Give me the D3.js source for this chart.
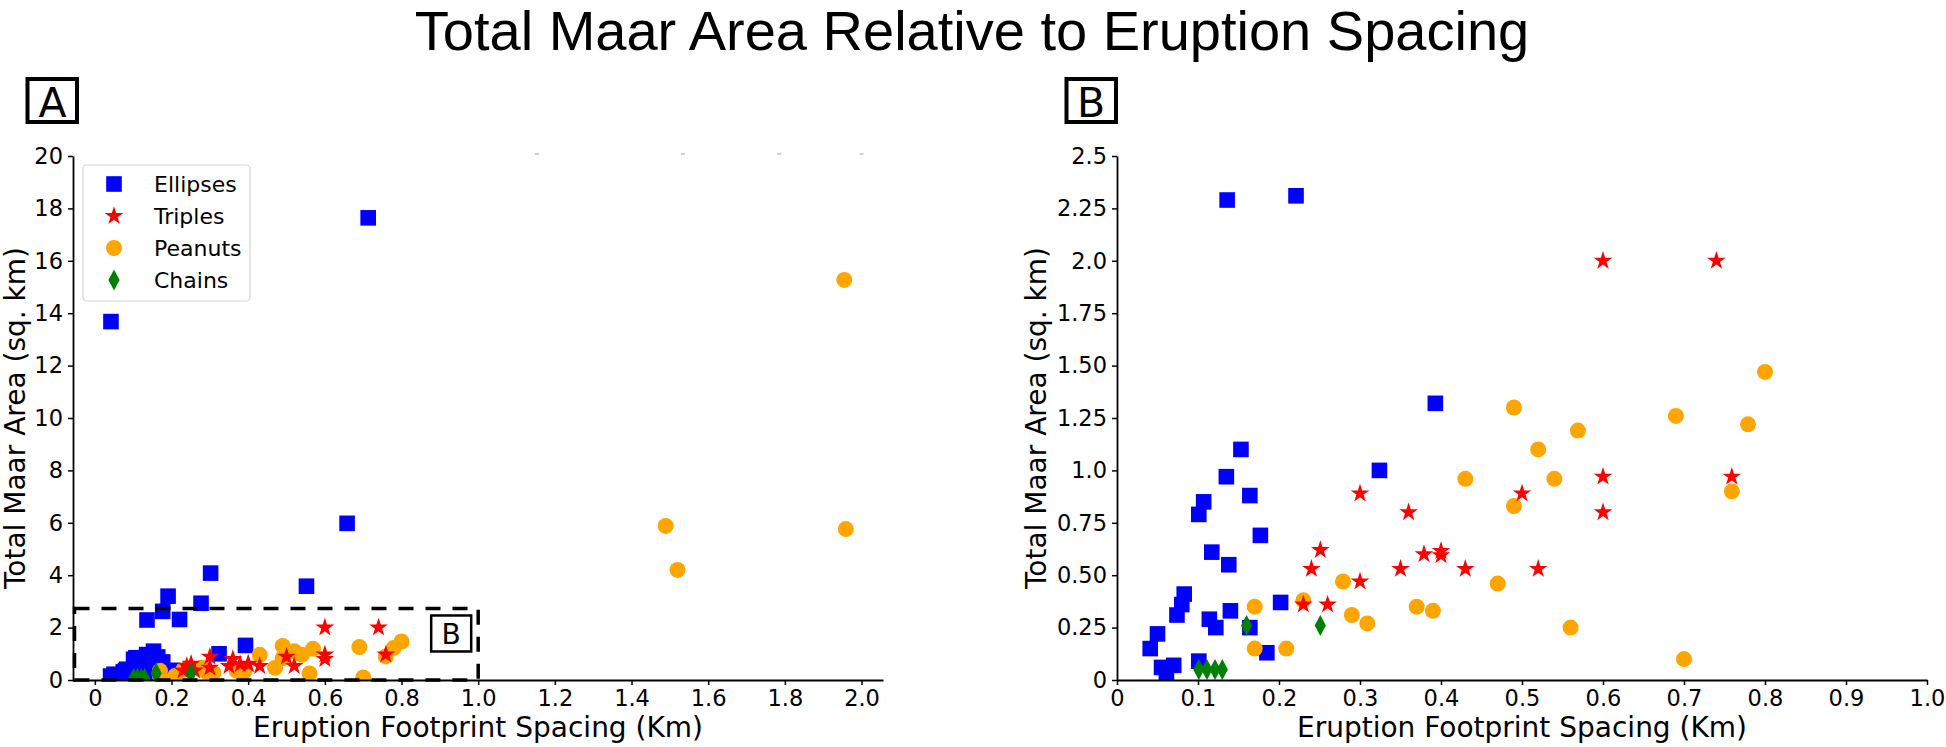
<!DOCTYPE html>
<html>
<head>
<meta charset="utf-8">
<script src="https://cdn.jsdelivr.net/npm/d3@7"></script>
<style>
  html, body { margin: 0; padding: 0; background: #fff; }
  svg { display: block; }
</style>
</head>
<body>
<svg id="chart" width="1946" height="747"></svg>
<script>
// ---------------- DATA ----------------
const seriesNames = ["Ellipses", "Triples", "Peanuts", "Chains"];

const ellipsesX = [0.041, 0.050, 0.055, 0.061, 0.070, 0.074, 0.080, 0.083, 0.101, 0.107, 0.101, 0.114, 0.117, 0.122, 0.135, 0.138, 0.140, 0.153, 0.164, 0.164, 0.177, 0.185, 0.202, 0.324, 0.393, 0.136, 0.221,
                   0.177, 0.191, 0.277, 0.302, 0.552, 0.658, 0.713, 0.042];
const ellipsesY = [0.15, 0.22, 0.06, 0.025, 0.07, 0.31, 0.36, 0.41, 0.79, 0.85, 0.09, 0.29, 0.61, 0.25, 0.97, 0.55, 0.33, 1.10, 0.88, 0.25, 0.69, 0.13, 0.37, 1.00, 1.32, 2.29, 2.31,
                   2.62, 3.20, 2.93, 4.08, 3.58, 5.98, 17.64, 13.68];

const triplesX = [0.300, 0.360, 0.251, 0.240, 0.300, 0.230, 0.260, 0.350, 0.379, 0.400, 0.400, 0.430, 0.600, 0.740, 0.600, 0.759, 0.500, 0.600, 0.520];
const triplesY = [0.89, 0.80, 0.62, 0.53, 0.47, 0.36, 0.36, 0.53, 0.60, 0.615, 0.595, 0.53, 2.00, 2.00, 0.97, 0.97, 0.89, 0.80, 0.53];

const peanutsX = [0.430, 0.279, 0.230, 0.170, 0.170, 0.209, 0.290, 0.309, 0.370, 0.390, 0.800, 0.490, 0.690, 0.779, 0.569, 0.520, 0.540, 0.759, 0.490, 0.470, 0.560, 0.700,
                  1.489, 1.520, 1.955, 1.959];
const peanutsY = [0.96, 0.47, 0.38, 0.35, 0.15, 0.15, 0.31, 0.27, 0.35, 0.33, 1.47, 1.30, 1.26, 1.22, 1.19, 1.10, 0.96, 0.90, 0.83, 0.46, 0.25, 0.10,
                  5.88, 4.20, 15.27, 5.76];

const chainsX = [0.101, 0.111, 0.121, 0.130, 0.160, 0.251];
const chainsY = [0.05, 0.05, 0.05, 0.05, 0.26, 0.26];

// axis ticks
const ticksAX = [0, 0.2, 0.4, 0.6, 0.8, 1.0, 1.2, 1.4, 1.6, 1.8, 2.0];
const tickLabelsAX = ["0", "0.2", "0.4", "0.6", "0.8", "1.0", "1.2", "1.4", "1.6", "1.8", "2.0"];
const ticksAY = [0, 2, 4, 6, 8, 10, 12, 14, 16, 18, 20];
const tickLabelsAY = ["0", "2", "4", "6", "8", "10", "12", "14", "16", "18", "20"];
const ticksBX = [0, 0.1, 0.2, 0.3, 0.4, 0.5, 0.6, 0.7, 0.8, 0.9, 1.0];
const tickLabelsBX = ["0", "0.1", "0.2", "0.3", "0.4", "0.5", "0.6", "0.7", "0.8", "0.9", "1.0"];
const ticksBY = [0, 0.25, 0.5, 0.75, 1.0, 1.25, 1.5, 1.75, 2.0, 2.25, 2.5];
const tickLabelsBY = ["0", "0.25", "0.50", "0.75", "1.0", "1.25", "1.50", "1.75", "2.0", "2.25", "2.5"];

// zoom-box extent drawn in panel A (data units)
const zoomBoxX = [null, 1.0];   // null = left edge of axes
const zoomBoxY = [0, 2.73];

// faint marks along top of panel A (data x)
const topMarksA = [1.153, 1.534, 1.785, 2.0];

const titleText = "Total Maar Area Relative to Eruption Spacing";
const xLabel = "Eruption Footprint Spacing (Km)";
const yLabel = "Total Maar Area (sq. km)";

// ---------------- STYLE / LAYOUT ----------------
const colors = { Ellipses: "#0000ff", Triples: "#ff0000", Peanuts: "#ffa500", Chains: "#008000" };
const FONT = "'DejaVu Sans', sans-serif";
const tickFont = 22.5, labelFont = 28;

const svg = d3.select("#chart");
svg.append("rect").attr("width", 1946).attr("height", 747).attr("fill", "#fff");

// marker paths
function starPath(R) {
  const r = R * 0.381966, pts = [];
  for (let i = 0; i < 10; i++) {
    const a = -Math.PI / 2 + i * Math.PI / 5;
    const rr = i % 2 === 0 ? R : r;
    pts.push([rr * Math.cos(a), rr * Math.sin(a)]);
  }
  return "M" + pts.map(p => p[0].toFixed(2) + "," + p[1].toFixed(2)).join("L") + "Z";
}
const markerPath = {
  Ellipses: (() => { const h = 7.8; return `M${-h},${-h}H${h}V${h}H${-h}Z`; })(),
  Triples: starPath(9.8),
  Peanuts: (() => { const r = 8; return `M${r},0A${r},${r} 0 1,1 ${-r},0A${r},${r} 0 1,1 ${r},0Z`; })(),
  Chains: (() => { const w = 5.6, h = 10.6; return `M0,${-h}L${w},0L0,${h}L${-w},0Z`; })()
};

const series = [
  { name: "Ellipses", xs: ellipsesX, ys: ellipsesY },
  { name: "Peanuts", xs: peanutsX, ys: peanutsY },
  { name: "Triples", xs: triplesX, ys: triplesY },
  { name: "Chains", xs: chainsX, ys: chainsY }
];

// title
svg.append("text").attr("x", 972).attr("y", 50).attr("text-anchor", "middle")
  .style("font-family", "'Liberation Sans', Arial, sans-serif").style("font-size", "56px")
  .text(titleText);

function makePanel(id, xDomain, xRange, yDomain, yRange, xt, xtl, yt, ytl) {
  const x = d3.scaleLinear().domain(xDomain).range(xRange);
  const y = d3.scaleLinear().domain(yDomain).range(yRange);
  const g = svg.append("g");

  svg.append("clipPath").attr("id", "clip" + id).append("rect")
    .attr("x", xRange[0]).attr("y", yRange[1])
    .attr("width", xRange[1] - xRange[0]).attr("height", yRange[0] - yRange[1]);

  const marks = g.append("g").attr("clip-path", `url(#clip${id})`);
  series.forEach(s => {
    const pts = s.xs.map((v, i) => [v, s.ys[i]]);
    marks.append("g").selectAll("path").data(pts).join("path")
      .attr("d", markerPath[s.name])
      .attr("transform", d => `translate(${x(d[0])},${y(d[1])})`)
      .attr("fill", colors[s.name]);
  });

  const xa = g.append("g").attr("transform", `translate(0,${yRange[0]})`)
    .call(d3.axisBottom(x).tickValues(xt).tickFormat((d, i) => xtl[i]).tickSize(5).tickPadding(5).tickSizeOuter(0));
  const ya = g.append("g").attr("transform", `translate(${xRange[0]},0)`)
    .call(d3.axisLeft(y).tickValues(yt).tickFormat((d, i) => ytl[i]).tickSize(5).tickPadding(5).tickSizeOuter(0));
  [xa, ya].forEach(a => {
    a.selectAll("text").style("font-family", FONT).style("font-size", tickFont + "px").attr("fill", "#000");
    a.selectAll("line").attr("stroke", "#000").attr("stroke-width", 1.5);
    a.select(".domain").attr("stroke", "#000").attr("stroke-width", 1.8);
  });
  return { x, y, g };
}

// Panel A
const A = makePanel("A", [-0.057, 2.056], [73, 883], [0, 20], [680, 156], ticksAX, tickLabelsAX, ticksAY, tickLabelsAY);
// Panel B
const B = makePanel("B", [0, 1], [1117, 1927], [0, 2.5], [680, 156], ticksBX, tickLabelsBX, ticksBY, tickLabelsBY);

// axis labels
[478, 1522].forEach(cx => {
  svg.append("text").attr("x", cx).attr("y", 737).attr("text-anchor", "middle")
    .style("font-family", FONT).style("font-size", labelFont + "px").text(xLabel);
});
[25, 1046].forEach(bx => {
  svg.append("text").attr("transform", `translate(${bx},418) rotate(-90)`).attr("text-anchor", "middle")
    .style("font-family", FONT).style("font-size", labelFont + "px").text(yLabel);
});

// dashed zoom box in panel A
{
  const x0 = zoomBoxX[0] === null ? A.x.range()[0] : A.x(zoomBoxX[0]);
  const x1 = A.x(zoomBoxX[1]);
  const y0 = A.y(zoomBoxY[0]), y1 = A.y(zoomBoxY[1]);
  A.g.append("rect").attr("x", x0 + 1.5).attr("y", y1).attr("width", x1 - x0 - 1.5).attr("height", y0 - y1)
    .attr("fill", "none").attr("stroke", "#000").attr("stroke-width", 3.5)
    .attr("stroke-dasharray", "15,12");
  // small B label box
  const bx = x1 - 47, by = y1 + 7;
  A.g.append("rect").attr("x", bx).attr("y", by).attr("width", 40).attr("height", 36)
    .attr("fill", "#fff").attr("stroke", "#000").attr("stroke-width", 2.5);
  A.g.append("text").attr("x", bx + 20).attr("y", by + 29).attr("text-anchor", "middle")
    .style("font-family", FONT).style("font-size", "28px").text("B");
}

// faint top marks
A.g.selectAll(".topmark").data(topMarksA).join("line")
  .attr("x1", d => A.x(d) - 2).attr("x2", d => A.x(d) + 2)
  .attr("y1", 154).attr("y2", 154).attr("stroke", "#bbb").attr("stroke-width", 1.5);

// panel letters
[["A", 27.5, 79, 52.5], ["B", 1066.5, 79, 1091]].forEach(([t, rx, ry, cx]) => {
  svg.append("rect").attr("x", rx).attr("y", ry).attr("width", 49.5).attr("height", 43)
    .attr("fill", "#fff").attr("stroke", "#000").attr("stroke-width", 4);
  svg.append("text").attr("x", cx).attr("y", 116.5).attr("text-anchor", "middle")
    .style("font-family", FONT).style("font-size", "41px").text(t);
});

// legend in panel A
{
  const lg = svg.append("g");
  lg.append("rect").attr("x", 83).attr("y", 165).attr("width", 167).attr("height", 136).attr("rx", 4)
    .attr("fill", "#fff").attr("fill-opacity", 0.8).attr("stroke", "#d6d6d6").attr("stroke-width", 1.2);
  const rowY = [184, 216, 248, 280];
  seriesNames.forEach((n, i) => {
    lg.append("path").attr("d", markerPath[n]).attr("transform", `translate(114,${rowY[i]})`).attr("fill", colors[n]);
    lg.append("text").attr("x", 154).attr("y", rowY[i]).attr("dy", "0.36em")
      .style("font-family", FONT).style("font-size", "22px").text(n);
  });
}
</script>
</body>
</html>
